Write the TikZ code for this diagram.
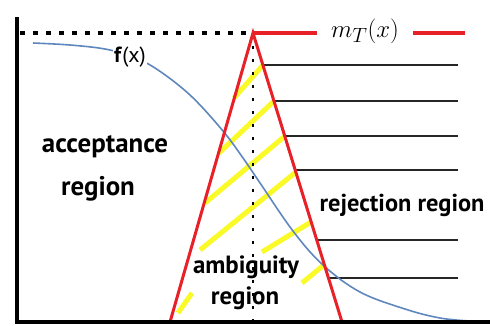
\documentclass[tikz,border=0pt]{standalone}
\usepackage{fontspec}
\setmainfont{Liberation Sans}
\newfontfamily\lblfont{PT Sans}
\usetikzlibrary{calc}
\definecolor{myred}{RGB}{232,32,40}
\definecolor{myyellow}{RGB}{250,250,40}
\definecolor{myblue}{RGB}{95,135,190}
\begin{document}
\begin{tikzpicture}[x=1bp,y=-1bp,
  ax/.style={line width=3.5bp,black},
  leg/.style={line width=3bp,color=myred},
  hl/.style={line width=2.2bp,black!85},
  hatch/.style={line width=5bp,color=myyellow},
  lbl/.style={font=\lblfont\fontsize{27}{29}\selectfont\bfseries,inner sep=0pt,anchor=base},
]
\useasboundingbox (0,0) rectangle (490,325);
\coordinate (A) at (253,33);
\coordinate (L) at (170,322);
\coordinate (R) at (342,322);
\coordinate (D) at (253,322);
% yellow hatching
\draw[hatch] (263,65) -- (234,98);
\draw[hatch] (274,101) -- (219,153);
\draw[hatch] (285,136) -- (205,203);
\draw[hatch] (296,172) -- (200,250);
\draw[hatch] (311,222) -- (262,252);
\draw[hatch] (325,264) -- (302,283);
\draw[hatch] (192,293) -- (178,313);
% black rejection lines
\draw[hl] (262.9,65) -- (458,65);
\draw[hl] (273.9,101) -- (458,101);
\draw[hl] (284.7,136) -- (458,136);
\draw[hl] (295.2,170) -- (458,170);
\draw[hl] (316.7,240) -- (458,240);
\draw[hl] (328.5,278) -- (458,278);
% f(x) curve
\draw[myblue,line width=1.6bp] plot[smooth,tension=0.6] coordinates {
 (33,43) (70,45) (105,49) (130,56) (155,68) (190,95) (223,131) (243,158)
 (258,180) (293,231) (323,265) (360,292) (405,309) (440,318) (470,321)};
% dotted lines
\draw[black,line width=4bp,dash pattern=on 5bp off 8bp] (20,33) -- (A);
\draw[black,line width=2.5bp,dash pattern=on 3bp off 10bp] (A) -- (D);
% triangle legs
\draw[leg] (L) -- (A) -- (R);
% m_T line
\draw[myred,line width=4bp] (A) -- (317,33);
\draw[myred,line width=4bp] (413,33) -- (465,33);
% axes
\draw[ax] (17,17) -- (17,322) -- (490,322);
% labels
\node[fill=white,inner sep=1bp,font=\lblfont\fontsize{22}{24}\selectfont] (fx) at (130,57) {\textbf{f}(x)};
\node[font=\fontsize{28}{30}\selectfont] (mt) at (365,31) {$m_{T}(x)$};
\node[lbl] (acc) at (105,152) {acceptance};
\node[lbl] (accr) at (98,195) {region};
\node[lbl,font=\lblfont\fontsize{24.5}{26}\selectfont\bfseries] (rej) at (402,211) {rejection region};
\node[lbl,font=\lblfont\fontsize{25}{27}\selectfont\bfseries] (amb) at (246,273) {ambiguity};
\node[lbl,font=\lblfont\fontsize{25}{27}\selectfont\bfseries] (ambr) at (245,304) {region};
\end{tikzpicture}
\end{document}
